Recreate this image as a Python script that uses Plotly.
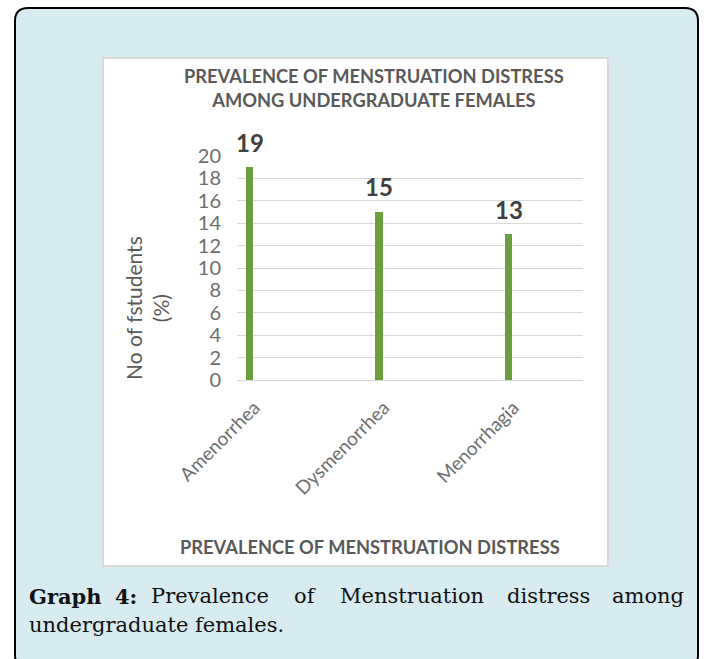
import plotly.graph_objects as go

# data
categories = ["Amenorrhea", "Dysmenorrhea", "Menorrhagia"]
values = [19, 15, 13]
y_ticks = list(range(0, 21, 2))

title_text = "PREVALENCE OF MENSTRUATION DISTRESS<br>AMONG UNDERGRADUATE FEMALES"
x_title_text = "PREVALENCE OF MENSTRUATION DISTRESS"
y_title_text = "No of fstudents<br>(%)"
caption_line1 = ["<b>Graph</b>", "<b>4:</b>", "Prevalence", "of", "Menstruation", "distress", "among"]
caption_line1_x = [27, 126, 210, 305, 412, 548, 686]
caption_line2 = "undergraduate females."

W, H = 704, 659
GREEN = "#6a9e3e"
GRID = "#d9d9d9"
SANS = "Lato"
SERIF = "DejaVu Serif"


def px(x):
    return x / W


def py(y):
    return 1 - y / H


fig = go.Figure()
fig.add_trace(go.Bar(
    x=categories,
    y=values,
    width=0.058,
    marker_color=GREEN,
    marker_line_width=0,
    hoverinfo="skip",
))

# value labels above the bars
for cat, val in zip(categories, values):
    fig.add_annotation(
        x=cat, y=val, xref="x", yref="y",
        text=f"<b>{val}</b>", showarrow=False, yshift=25,
        font=dict(family=SANS, size=24, color="#404040"),
    )

# outer rounded panel (light blue with black border)
r = 13
x0, x1, y0, y1 = px(15), px(698), py(8), py(668)
rx, ry = r / W, r / H
panel_path = (
    f"M {x0 + rx},{y0} L {x1 - rx},{y0} Q {x1},{y0} {x1},{y0 - ry} "
    f"L {x1},{y1 + ry} Q {x1},{y1} {x1 - rx},{y1} "
    f"L {x0 + rx},{y1} Q {x0},{y1} {x0},{y1 + ry} "
    f"L {x0},{y0 - ry} Q {x0},{y0} {x0 + rx},{y0} Z"
)
fig.add_shape(type="path", path=panel_path, xref="paper", yref="paper",
              fillcolor="#d7ebf0", line=dict(color="#000000", width=2), layer="below")
# white chart box
fig.add_shape(type="rect", xref="paper", yref="paper",
              x0=px(103), x1=px(608), y0=py(566), y1=py(58),
              fillcolor="#ffffff", line=dict(color="#d9d9d9", width=2), layer="below")

# chart title
fig.add_annotation(
    x=px(374), y=py(88), xref="paper", yref="paper", text=title_text,
    showarrow=False, xanchor="center", yanchor="middle",
    font=dict(family=SANS, size=18.3, color="#595959", weight="bold"),
)
# x axis title
fig.add_annotation(
    x=px(370), y=py(547), xref="paper", yref="paper", text=f"<b>{x_title_text}</b>",
    showarrow=False, xanchor="center", yanchor="middle",
    font=dict(family=SANS, size=18.3, color="#595959"),
)
# y axis title
fig.add_annotation(
    x=px(147), y=py(308), xref="paper", yref="paper", text=y_title_text,
    showarrow=False, xanchor="center", yanchor="middle", textangle=-90,
    font=dict(family=SANS, size=21, color="#595959"),
)

# caption, justified first line
for i, (word, wx) in enumerate(zip(caption_line1, caption_line1_x)):
    anchor = "left" if i == 0 else ("right" if i == len(caption_line1) - 1 else "center")
    fig.add_annotation(
        x=px(wx), y=py(596), xref="paper", yref="paper", text=word,
        showarrow=False, xanchor=anchor, yanchor="middle",
        font=dict(family=SERIF, size=21, color="#111111"),
    )
fig.add_annotation(
    x=px(27), y=py(625), xref="paper", yref="paper", text=caption_line2,
    showarrow=False, xanchor="left", yanchor="middle",
    font=dict(family=SERIF, size=21, color="#111111"),
)

fig.update_layout(
    width=W, height=H,
    margin=dict(l=0, r=0, t=0, b=0),
    paper_bgcolor="#ffffff",
    plot_bgcolor="rgba(0,0,0,0)",
    showlegend=False,
    bargap=0,
    xaxis=dict(
        domain=[px(237), px(583)],
        type="category",
        range=[-0.0965, 2.575],
        showgrid=False,
        showline=True, linecolor=GRID, linewidth=1,
        ticks="", tickangle=-45,
        ticklabelstandoff=8, ticklabelshift=5,
        tickfont=dict(family=SANS, size=19, color="#6e6e6e"),
        automargin=False,
    ),
    yaxis=dict(
        domain=[py(380), py(156)],
        range=[0, 20],
        tickvals=y_ticks,
        showgrid=True, gridcolor=GRID, gridwidth=1,
        zeroline=False, showline=False,
        ticks="", ticklabelstandoff=15,
        tickfont=dict(family=SANS, size=20, color="#6e6e6e"),
        automargin=False,
    ),
)

fig.write_html(
    "out.html",
    config={"displayModeBar": False},
    post_script="document.body.style.margin='0';",
)
